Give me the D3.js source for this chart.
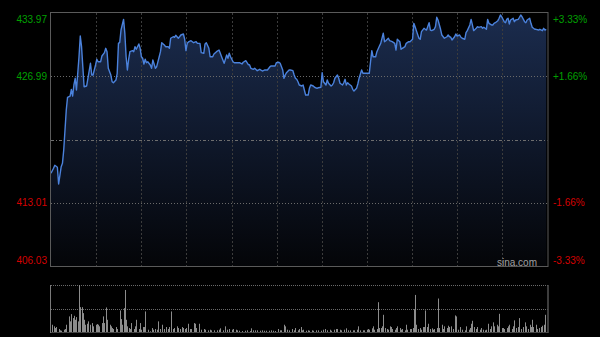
<!DOCTYPE html>
<html><head><meta charset="utf-8">
<script src="https://cdn.jsdelivr.net/npm/d3@7/dist/d3.min.js"></script>
<style>html,body{margin:0;padding:0;background:#000;}svg{display:block;}</style>
</head><body>
<script>
// ---- data ----
const prevClose = 420.00;
const priceTicks = [433.97, 426.99, 413.01, 406.03];
const pctTicks = ["+3.33%", "+1.66%", "-1.66%", "-3.33%"];
const minutes = [0,2,3,5,6,8,9,10,11,12,13,15,16,17,18,19,20,22,23,24,25,26,28,29,31,32,33,35,36,37,39,40,42,43,44,45,47,48,49,51,52,53,54,55,57,58,59,60,61,62,64,65,66,67,69,70,71,72,73,74,75,76,
78,79,80,82,83,85,86,87,89,90,92,93,94,96,97,98,100,101,102,104,105,106,107,108,110,112,114,115,117,118,120,121,122,124,125,127,128,130,132,133,134,136,137,138,139,140,141,143,144,146,148,150,151,153,155,156,
157,159,160,162,164,166,168,170,172,173,176,177,179,180,182,183,184,185,187,188,190,191,192,193,194,195,197,198,199,200,202,203,204,206,207,209,210,212,213,214,216,217,218,220,221,222,223,225,226,227,229,230,231,232,233,234,
236,237,238,240,241,242,244,245,247,249,250,251,252,253,255,256,258,259,261,262,263,265,266,268,270,271,272,274,275,276,278,279,281,282,284,285,286,287,289,290,291,293,294,295,297,298,299,301,302,303,304,306,307,309,311,312,
313,314,315,317,318,319,321,322,323,325,326,327,329,330,331,332,334,335,336,338,339,340,342,343,344,346,347,348,349,351,352,353,354,356,357,358,359,360,361,363,364,365,367,368,369,370,372,373,374,376,377,378,380,381,383,384,386,387,388,389];
const prices = [416.27,416.82,417.15,416.93,415.09,417.00,417.37,418.84,421.05,423.26,424.66,424.80,425.54,424.80,426.02,426.76,425.47,429.14,431.43,430.25,428.04,425.83,425.91,426.76,428.42,427.12,427.12,428.23,428.86,428.59,428.59,429.22,429.59,430.07,429.70,427.86,427.12,426.38,426.27,426.57,427.31,430.62,430.73,432.09,433.27,431.73,429.14,427.68,428.86,429.70,429.81,429.70,430.25,429.96,430.55,430.07,429.14,428.97,428.34,428.86,428.48,428.59,
428.23,427.86,428.78,427.86,428.04,429.14,429.70,430.69,430.44,430.25,430.25,430.07,431.18,431.35,431.29,431.51,431.18,431.35,431.54,431.65,431.07,429.81,430.62,430.77,430.91,430.69,430.80,430.62,430.62,429.59,429.52,430.55,430.69,430.07,429.14,429.14,429.44,429.70,429.88,429.52,429.14,428.42,428.86,429.33,428.97,429.52,429.14,428.59,428.48,428.48,428.48,428.34,428.53,428.70,428.28,428.23,
427.86,427.75,427.86,427.60,427.75,427.56,427.68,427.68,428.04,428.12,428.12,428.48,428.53,428.42,427.68,426.76,427.12,427.38,427.68,427.68,427.60,427.12,426.76,426.65,426.38,426.02,425.91,426.02,425.47,424.91,424.91,425.65,426.02,425.91,425.77,425.65,425.72,425.77,427.38,426.38,426.02,426.57,426.21,425.91,426.02,426.27,426.76,427.12,426.76,426.21,426.02,426.27,426.65,426.02,426.27,426.13,
425.91,425.54,425.36,425.65,426.13,426.76,427.68,427.31,427.31,427.31,427.31,428.59,429.81,429.14,429.14,429.70,430.33,430.62,431.73,430.80,430.91,431.18,430.91,430.80,430.62,429.88,431.07,430.80,429.96,430.07,430.25,430.62,430.80,430.80,431.07,432.83,432.46,432.02,431.18,431.07,431.91,432.28,432.17,432.09,432.90,432.09,432.02,432.17,432.46,433.50,433.20,432.17,431.54,431.18,431.35,431.54,
431.35,431.29,430.99,431.35,431.65,431.43,431.54,431.29,431.18,431.07,431.79,432.02,432.65,433.27,432.65,432.02,432.28,432.46,432.39,432.46,432.28,432.39,432.17,433.27,432.83,432.65,432.65,432.83,432.90,433.12,433.39,433.75,433.56,433.01,432.90,433.27,433.39,432.76,433.20,433.39,433.01,433.20,433.27,433.50,433.75,433.56,433.01,432.90,433.20,433.39,432.83,432.39,432.17,432.17,432.09,432.17,432.02,432.28,432.09,432.17];
const volMinutes = [1,2,3,4,6,7,8,10,11,12,14,15,16,17,18,19,20,21,22,23,24,25,26,27,28,29,31,32,33,35,36,37,38,40,41,42,43,44,46,47,48,49,51,52,54,55,56,57,58,59,60,61,62,63,65,66,67,69,70,71,72,73,74,76,78,79,80,82,83,84,86,87,89,90,92,93,94,96,97,99,100,101,103,104,105,106,108,109,110,112,113,114,116,118,120,121,123,125,126,128,130,132,133,135,137,138,140,142,143,145,146,148,150,152,154,156,157,159,160,162,164,166,167,169,171,173,174,176,178,180,181,183,184,185,187,189,191,192,194,195,
196,197,198,200,202,203,205,206,208,210,212,214,215,217,219,220,222,224,225,227,228,230,232,233,235,237,238,240,241,243,245,246,248,249,250,252,253,254,256,257,258,259,260,261,262,264,265,266,267,268,270,271,272,274,275,276,278,279,280,282,283,284,285,286,287,288,290,291,292,293,294,295,296,298,299,300,301,303,304,305,307,308,309,311,312,313,314,316,317,318,320,321,323,325,326,328,329,330,331,332,334,335,337,338,339,341,342,343,345,346,347,348,350,351,352,354,355,356,358,359,360,362,363,364,365,367,368,369,371,372,373,375,376,377,378,379,381,382,383,385,386,387,388];
const volumes = [73,57,40,50,30,17,13,23,30,73,157,107,180,140,163,123,150,107,473,250,250,190,123,73,83,107,73,90,57,73,80,73,57,90,157,90,247,123,73,57,40,30,50,30,217,130,73,240,423,123,57,40,30,90,30,57,123,30,90,23,50,50,207,23,7,40,23,30,23,107,30,73,30,50,30,50,207,30,40,57,40,30,50,40,30,40,83,30,30,90,83,40,83,23,30,23,17,23,17,17,17,23,37,17,57,23,30,23,30,23,17,13,10,13,17,10,37,17,17,17,13,17,13,13,13,17,13,10,30,17,17,73,57,23,17,30,17,40,17,30,
50,17,23,13,17,13,17,13,17,17,13,23,30,17,23,13,23,30,30,23,17,23,37,17,17,17,17,23,57,17,17,17,23,30,23,37,57,23,30,300,40,40,57,173,40,30,23,57,50,30,23,40,57,40,23,30,17,73,23,30,30,40,230,373,73,30,40,23,50,50,217,50,83,30,37,23,30,40,337,40,73,30,57,40,63,50,57,30,167,157,23,50,23,17,57,23,40,83,113,50,30,50,23,40,23,17,23,83,30,57,97,57,73,57,183,40,40,30,40,57,73,30,57,117,40,50,140,30,50,97,57,30,73,50,123,50,73,30,40,50,63,73,173];

// ---- layout ----
const W = 600, H = 337;
const L = 51, R = 547.5, T = 13, B = 266;
const VT = 285, VB = 332;

const svg = d3.select("body").append("svg").attr("width", W).attr("height", H)
  .style("background", "#000");

const x = d3.scaleLinear().domain([0, 390]).range([L, R]);
const y = d3.scaleLinear().domain([priceTicks[3], priceTicks[0]]).range([B, T]);
const yv = d3.scaleLinear().domain([0, d3.max(volumes)]).range([VB, VT]);

const defs = svg.append("defs");
const grad = defs.append("linearGradient").attr("id", "ag")
  .attr("gradientUnits", "userSpaceOnUse").attr("x1", 0).attr("x2", 0).attr("y1", T).attr("y2", B);
grad.append("stop").attr("offset", 0).attr("stop-color", "#1b2c4e");
grad.append("stop").attr("offset", 0.5).attr("stop-color", "#0f182b");
grad.append("stop").attr("offset", 1).attr("stop-color", "#040508");

const pts = minutes.map((m, i) => [m, prices[i]]);

// area
svg.append("path").datum(pts)
  .attr("fill", "url(#ag)")
  .attr("d", d3.area().x(d => x(d[0])).y0(B).y1(d => y(d[1])));

// vertical grid
const gridMin = d3.range(1, 11).map(i => i * 390 / 11);
svg.append("g").selectAll("line").data(gridMin).join("line")
  .attr("x1", d => Math.round(x(d)) + 0.5).attr("x2", d => Math.round(x(d)) + 0.5)
  .attr("y1", T).attr("y2", B)
  .attr("stroke", "#3c3c3c").attr("stroke-dasharray", "2,2");

// horizontal grid
svg.append("g").selectAll("line").data([priceTicks[1], priceTicks[2]]).join("line")
  .attr("x1", L).attr("x2", R)
  .attr("y1", d => Math.round(y(d)) + 0.5).attr("y2", d => Math.round(y(d)) + 0.5)
  .attr("stroke", "#6a6a6a").attr("stroke-dasharray", "1,2");
svg.append("line").attr("x1", L).attr("x2", R)
  .attr("y1", Math.round(y(prevClose)) + 0.5).attr("y2", Math.round(y(prevClose)) + 0.5)
  .attr("stroke", "#6e6e6e").attr("stroke-dasharray", "3,2,1,2");

// price line
svg.append("path").datum(pts)
  .attr("fill", "none").attr("stroke", "#4b82dc").attr("stroke-width", 1.4)
  .attr("stroke-linejoin", "round")
  .attr("d", d3.line().x(d => x(d[0])).y(d => y(d[1])));

// border
svg.append("rect").attr("x", L - 0.5).attr("y", T - 0.5).attr("width", R - L + 1).attr("height", B - T + 1)
  .attr("fill", "none").attr("stroke", "#5a5a5a");

// labels
const font = "'Liberation Sans', Arial, sans-serif";
const labelY = [T + 6, y(priceTicks[1]), y(priceTicks[2]), B - 6];
svg.append("g").selectAll("text").data(priceTicks).join("text")
  .attr("x", 47).attr("y", (d, i) => labelY[i]).attr("dy", "0.35em")
  .attr("text-anchor", "end").attr("font-family", font).attr("font-size", 10)
  .attr("fill", d => d > prevClose ? "#00a000" : "#d40000")
  .text(d => d.toFixed(2));
svg.append("g").selectAll("text").data(pctTicks).join("text")
  .attr("x", 553).attr("y", (d, i) => labelY[i]).attr("dy", "0.35em")
  .attr("font-family", font).attr("font-size", 10)
  .attr("fill", d => d[0] === "+" ? "#00a000" : "#d40000")
  .text(d => d);

svg.append("text").attr("x", 537).attr("y", 262).attr("dy", "0.35em")
  .attr("text-anchor", "end").attr("font-family", font).attr("font-size", 10)
  .attr("fill", "#a0a0a0").text("sina.com");

// volume panel
svg.append("g").selectAll("line").data([VT, (VT + VB) / 2]).join("line")
  .attr("x1", L).attr("x2", R)
  .attr("y1", d => Math.round(d) + 0.5).attr("y2", d => Math.round(d) + 0.5)
  .attr("stroke", "#6a6a6a").attr("stroke-dasharray", "1,1");
svg.append("g").selectAll("rect").data(volMinutes).join("rect")
  .attr("x", d => Math.round(x(d)))
  .attr("width", 1)
  .attr("y", (d, i) => yv(volumes[i]))
  .attr("height", (d, i) => VB - yv(volumes[i]))
  .attr("fill", "#8c8c8c");
svg.append("line").attr("x1", L).attr("x2", R).attr("y1", VB + 0.5).attr("y2", VB + 0.5)
  .attr("stroke", "#444");
svg.append("g").selectAll("line").data([L - 0.5, R + 0.5]).join("line")
  .attr("x1", d => d).attr("x2", d => d).attr("y1", VT).attr("y2", VB + 1)
  .attr("stroke", "#7a7a7a");
</script>
</body></html>
